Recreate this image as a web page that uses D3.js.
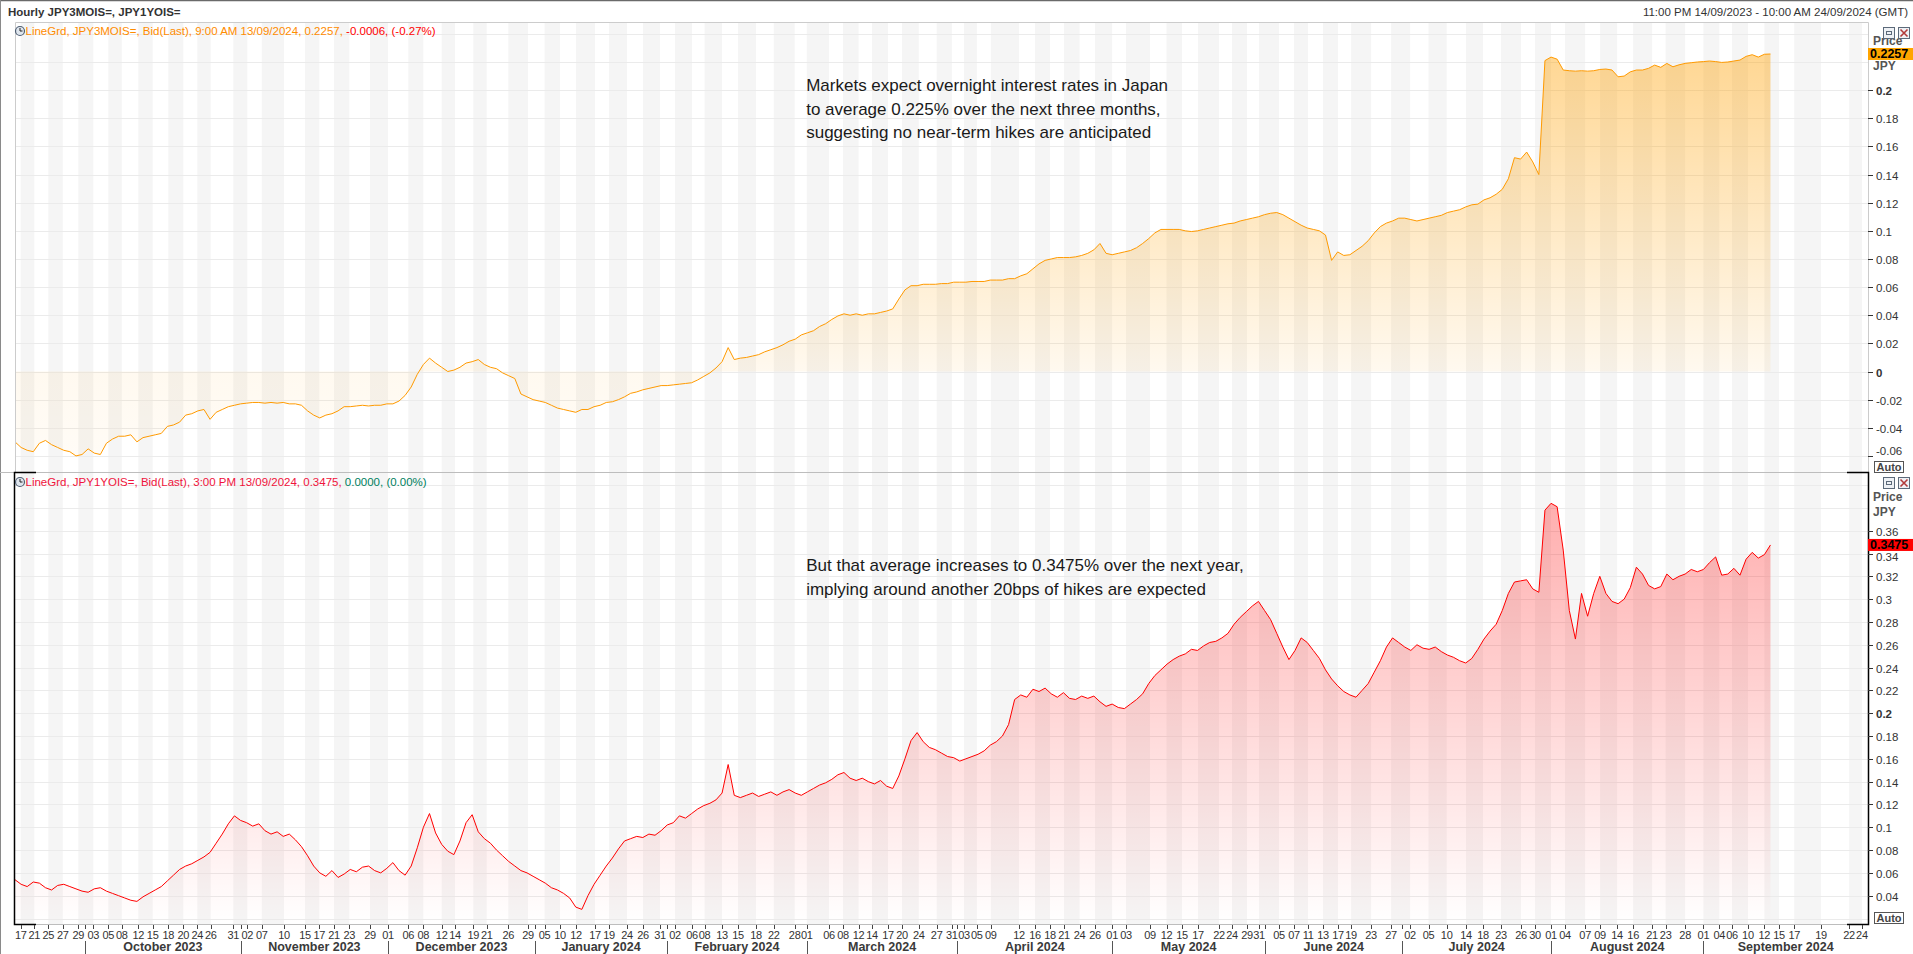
<!DOCTYPE html>
<html><head><meta charset="utf-8">
<script src="https://cdn.jsdelivr.net/npm/d3@7"></script>
<style>html,body{margin:0;padding:0;background:#fff;overflow:hidden}</style>
</head><body>
<script>
// ---------- DATA ----------
// JPY 3M OIS (%), one sample per trading-time slot
const jpy3m = [
-0.050,-0.054,-0.056,-0.057,-0.051,-0.049,-0.052,-0.054,-0.056,-0.057,
-0.060,-0.059,-0.055,-0.058,-0.059,-0.051,-0.048,-0.046,-0.046,-0.045,
-0.050,-0.047,-0.046,-0.045,-0.044,-0.039,-0.038,-0.036,-0.031,-0.030,
-0.028,-0.027,-0.034,-0.029,-0.027,-0.025,-0.024,-0.023,-0.0225,-0.022,
-0.022,-0.0225,-0.022,-0.0225,-0.022,-0.023,-0.023,-0.024,-0.028,-0.031,
-0.033,-0.031,-0.030,-0.028,-0.025,-0.025,-0.0245,-0.024,-0.0245,-0.024,
-0.024,-0.023,-0.023,-0.021,-0.017,-0.011,-0.002,0.005,0.0095,0.006,
0.003,0.000,0.001,0.003,0.006,0.007,0.0085,0.005,0.003,0.002,
-0.001,-0.003,-0.005,-0.016,-0.018,-0.020,-0.021,-0.022,-0.024,-0.026,
-0.027,-0.028,-0.029,-0.027,-0.027,-0.025,-0.024,-0.022,-0.0215,-0.020,
-0.018,-0.0155,-0.0145,-0.013,-0.012,-0.011,-0.010,-0.010,-0.0095,-0.009,
-0.0085,-0.008,-0.006,-0.0035,-0.001,0.0025,0.007,0.017,0.0085,0.0095,
0.010,0.011,0.012,0.014,0.0155,0.017,0.019,0.0215,0.023,0.026,
0.0275,0.029,0.032,0.034,0.037,0.0395,0.041,0.040,0.041,0.040,
0.041,0.041,0.042,0.043,0.0445,0.0515,0.058,0.061,0.061,0.062,
0.062,0.062,0.0625,0.0625,0.0635,0.0635,0.0635,0.064,0.064,0.064,
0.065,0.065,0.065,0.066,0.066,0.068,0.0695,0.073,0.0765,0.079,
0.080,0.081,0.081,0.081,0.0815,0.0825,0.084,0.0865,0.091,0.084,
0.083,0.084,0.085,0.086,0.088,0.091,0.0945,0.0985,0.101,0.101,
0.101,0.101,0.100,0.0995,0.100,0.101,0.102,0.103,0.104,0.105,
0.1055,0.107,0.108,0.109,0.110,0.1115,0.1125,0.113,0.1115,0.109,
0.1065,0.104,0.102,0.101,0.100,0.097,0.079,0.085,0.0825,0.083,
0.086,0.089,0.093,0.0985,0.103,0.1055,0.107,0.109,0.109,0.108,
0.107,0.108,0.109,0.110,0.111,0.113,0.114,0.115,0.117,0.1185,
0.119,0.122,0.1235,0.126,0.1295,0.137,0.152,0.151,0.156,0.149,
0.140,0.221,0.2235,0.222,0.2143,0.2138,0.2135,0.2138,0.2135,0.2138,
0.2147,0.2150,0.2143,0.2095,0.2100,0.2130,0.2143,0.2143,0.2155,0.2178,
0.2162,0.2190,0.2166,0.2180,0.2190,0.2195,0.2200,0.2203,0.2207,0.2203,
0.2197,0.2200,0.2207,0.2214,0.2240,0.2252,0.2235,0.2255,0.2257
];
// JPY 1Y OIS (%)
const jpy1y = [
0.054,0.050,0.048,0.052,0.051,0.047,0.045,0.049,0.050,0.048,
0.046,0.044,0.043,0.046,0.047,0.044,0.042,0.040,0.038,0.036,
0.035,0.039,0.042,0.045,0.048,0.053,0.058,0.063,0.066,0.068,
0.071,0.074,0.078,0.086,0.094,0.103,0.110,0.106,0.104,0.101,
0.103,0.097,0.094,0.096,0.092,0.094,0.089,0.083,0.075,0.066,
0.060,0.057,0.062,0.056,0.059,0.063,0.061,0.065,0.066,0.062,
0.060,0.064,0.069,0.062,0.058,0.066,0.082,0.100,0.112,0.095,
0.085,0.079,0.076,0.088,0.104,0.111,0.096,0.090,0.086,0.080,
0.075,0.070,0.066,0.062,0.060,0.057,0.054,0.051,0.047,0.045,
0.042,0.038,0.030,0.028,0.040,0.050,0.058,0.066,0.073,0.081,
0.088,0.090,0.092,0.091,0.094,0.093,0.097,0.102,0.104,0.110,
0.108,0.112,0.116,0.119,0.121,0.124,0.130,0.155,0.128,0.126,
0.128,0.130,0.127,0.129,0.131,0.128,0.131,0.133,0.130,0.128,
0.131,0.134,0.137,0.139,0.142,0.146,0.148,0.143,0.141,0.143,
0.140,0.138,0.141,0.136,0.134,0.145,0.160,0.176,0.183,0.175,
0.170,0.168,0.165,0.162,0.161,0.158,0.160,0.162,0.164,0.167,
0.172,0.175,0.180,0.190,0.212,0.216,0.214,0.221,0.219,0.222,
0.217,0.214,0.218,0.213,0.212,0.215,0.213,0.215,0.210,0.206,
0.208,0.205,0.204,0.208,0.212,0.217,0.226,0.233,0.238,0.243,
0.247,0.250,0.252,0.256,0.255,0.259,0.262,0.263,0.266,0.270,
0.278,0.284,0.289,0.294,0.298,0.290,0.282,0.270,0.258,0.247,
0.255,0.266,0.262,0.255,0.248,0.238,0.230,0.224,0.219,0.216,
0.214,0.220,0.226,0.236,0.246,0.258,0.266,0.262,0.258,0.255,
0.260,0.257,0.256,0.258,0.254,0.251,0.249,0.246,0.244,0.248,
0.256,0.265,0.272,0.278,0.290,0.305,0.315,0.316,0.317,0.309,
0.306,0.378,0.384,0.381,0.343,0.290,0.265,0.305,0.285,0.305,
0.320,0.305,0.298,0.296,0.300,0.310,0.328,0.322,0.312,0.309,
0.311,0.322,0.317,0.320,0.322,0.326,0.324,0.326,0.332,0.337,
0.321,0.322,0.327,0.321,0.335,0.341,0.336,0.339,0.3475
];
// X axis: day labels and the trading-time slot where each day starts
const tickLabels = ["17","21","25","27","29",
"03","05","08","12","15","18","20","24","26","31",
"02","07","10","15","17","21","23","29",
"01","06","08","12","14","19","21","26","29",
"05","10","12","17","19","24","26","31",
"02","06","08","13","15","18","22","28",
"01","06","08","12","14","17","20","24","27","31",
"03","05","09","12","16","18","21","24","26",
"01","03","09","12","15","17","22","24","29","31",
"05","07","11","13","17","19","23","27",
"02","05","10","14","18","23","26","30",
"01","04","07","09","14","16","21","23","28",
"01","04","06","10","12","15","17","19","22","24"];
const tickBars = [0.94,3.17,5.46,7.83,10.39,
12.85,15.31,17.51,20.23,22.59,25.15,27.61,29.91,32.11,35.82,
38.11,40.48,44.13,47.58,49.93,52.34,54.85,58.24,
61.2,64.53,66.99,70.0,72.19,75.19,77.39,80.94,84.17,
86.89,89.42,92.04,95.16,97.46,100.41,103.04,105.82,
108.29,111.08,113.13,116.0,118.62,121.57,124.48,127.91,
129.9,133.55,135.85,138.39,140.61,143.23,145.53,148.27,151.21,153.7,
155.7,157.8,160.1,164.72,167.35,169.81,172.11,174.65,177.19,
180.0,182.28,186.22,188.92,191.47,194.09,197.54,199.67,202.13,204.1,
207.38,209.84,212.14,214.6,217.06,219.2,222.48,225.76,
228.88,231.9,234.88,238.06,240.85,243.8,247.08,249.38,
252.0,254.3,257.6,260.05,262.84,265.47,268.58,270.8,274.0,
277.0,279.6,281.7,284.3,287.0,289.4,291.9,296.3,300.9,303.0];
const monthNames = ["October 2023","November 2023","December 2023","January 2024","February 2024","March 2024","April 2024","May 2024","June 2024","July 2024","August 2024","September 2024"];
const monthBars = [11.48,37.03,61.2,85.3,107.0,129.9,154.6,180.0,205.1,227.6,252.0,277.0];
const barEnd = 304;
const topTicks = [-0.06,-0.04,-0.02,0,0.02,0.04,0.06,0.08,0.1,0.12,0.14,0.16,0.18,0.2];
const botTicks = [0.04,0.06,0.08,0.1,0.12,0.14,0.16,0.18,0.2,0.22,0.24,0.26,0.28,0.3,0.32,0.34,0.36];
const topNotes = ["Markets expect overnight interest rates in Japan","to average 0.225% over the next three months,","suggesting no near-term hikes are anticipated"];
const botNotes = ["But that average increases to 0.3475% over the next year,","implying around another 20bps of hikes are expected"];

// ---------- LAYOUT ----------
const W=1913,H=954;
const L=15,R=1868,T0=22,SEP=472,B1=924;
const UI="'Liberation Sans', Arial, sans-serif";
const svg=d3.select('body').append('svg').attr('width',W).attr('height',H).style('display','block').style('font-family',UI);
const x=d3.scaleLinear().domain([0,barEnd]).range([L,R]);
const yT=d3.scaleLinear().domain([-0.07143,0.24844]).range([SEP,T0]);
const yB=d3.scaleLinear().domain([0.01518,0.41146]).range([B1,SEP]);

svg.append('rect').attr('width',W).attr('height',H).attr('fill','#fff');
const defs=svg.append('defs');
const gO=defs.append('linearGradient').attr('id','gO').attr('gradientUnits','userSpaceOnUse').attr('x1',0).attr('x2',0).attr('y1',T0).attr('y2',SEP);
gO.append('stop').attr('offset',0).attr('stop-color','#FFA000').attr('stop-opacity',0.46);
gO.append('stop').attr('offset',0.78).attr('stop-color','#FFA000').attr('stop-opacity',0.06);
gO.append('stop').attr('offset',1).attr('stop-color','#FFA000').attr('stop-opacity',0.03);
const gR=defs.append('linearGradient').attr('id','gR').attr('gradientUnits','userSpaceOnUse').attr('x1',0).attr('x2',0).attr('y1',SEP).attr('y2',B1);
gR.append('stop').attr('offset',0).attr('stop-color','#FF0000').attr('stop-opacity',0.34);
gR.append('stop').attr('offset',1).attr('stop-color','#FF0000').attr('stop-opacity',0.0);
defs.append('clipPath').attr('id','cT').append('rect').attr('x',L).attr('y',T0).attr('width',R-L).attr('height',SEP-T0);
defs.append('clipPath').attr('id','cB').append('rect').attr('x',L).attr('y',SEP).attr('width',R-L).attr('height',B1-SEP);

// stripes between alternate day labels
const stripes=svg.append('g');
for(let k=0;k<tickBars.length-1;k+=2){
  stripes.append('rect').attr('x',x(tickBars[k])).attr('y',T0).attr('width',x(tickBars[k+1])-x(tickBars[k])).attr('height',B1-T0).attr('fill','#F5F5F5');
}
// gridlines
const grid=svg.append('g').attr('stroke','#EBEBEB').attr('stroke-width',1);
d3.range(-4,13).map(k=>k*0.02).filter(v=>yT(v)>T0&&yT(v)<SEP).forEach(v=>{
  grid.append('line').attr('x1',L).attr('x2',R).attr('y1',Math.round(yT(v))+0.5).attr('y2',Math.round(yT(v))+0.5);
});
d3.range(1,21).map(k=>k*0.02).filter(v=>yB(v)>SEP&&yB(v)<B1).forEach(v=>{
  grid.append('line').attr('x1',L).attr('x2',R).attr('y1',Math.round(yB(v))+0.5).attr('y2',Math.round(yB(v))+0.5);
});

// areas & lines
const gTop=svg.append('g').attr('clip-path','url(#cT)');
gTop.append('path').datum(jpy3m).attr('fill','url(#gO)')
  .attr('d',d3.area().x((d,i)=>x(i)).y0(yT(0)).y1(d=>yT(d)));
gTop.append('path').datum(jpy3m).attr('fill','none').attr('stroke','#FF9A00').attr('stroke-width',1)
  .attr('d',d3.line().x((d,i)=>x(i)).y(d=>yT(d)));
const gBot=svg.append('g').attr('clip-path','url(#cB)');
gBot.append('path').datum(jpy1y).attr('fill','url(#gR)')
  .attr('d',d3.area().x((d,i)=>x(i)).y0(B1).y1(d=>yB(d)));
gBot.append('path').datum(jpy1y).attr('fill','none').attr('stroke','#FF0000').attr('stroke-width',1)
  .attr('d',d3.line().x((d,i)=>x(i)).y(d=>yB(d)));

// frames
svg.append('line').attr('x1',0).attr('x2',W).attr('y1',0.5).attr('y2',0.5).attr('stroke','#6a6a6a').attr('stroke-width',1.5);
svg.append('line').attr('x1',0.5).attr('x2',0.5).attr('y1',0).attr('y2',H).attr('stroke','#8a8a8a');
svg.append('path').attr('d',`M${L+0.5},${SEP}V${T0+0.5}H${R+0.5}V${SEP}`).attr('fill','none').attr('stroke','#CCCCCC');
svg.append('line').attr('x1',0).attr('x2',R).attr('y1',SEP+0.5).attr('y2',SEP+0.5).attr('stroke','#BDBDBD');
svg.append('line').attr('x1',L).attr('x2',R).attr('y1',B1+0.5).attr('y2',B1+0.5).attr('stroke','#BDBDBD');
const blk=svg.append('g').attr('stroke','#000').attr('stroke-width',1.5).attr('fill','none');
blk.append('path').attr('d',`M${L+21},${SEP+0.5}H${L-0.5}V${B1+0.5}H${L+21}`);
blk.append('path').attr('d',`M${R-21},${SEP+0.5}H${R+0.5}V${B1+0.5}H${R-21}`);

// x axis ticks & labels
const xa=svg.append('g').attr('fill','#333').attr('font-size',11);
tickBars.forEach((b,i)=>{
  xa.append('line').attr('x1',Math.round(x(b))+0.5).attr('x2',Math.round(x(b))+0.5).attr('y1',B1+1).attr('y2',B1+5).attr('stroke','#444');
  xa.append('text').attr('x',x(b)).attr('y',B1+11).attr('dy','0.35em').attr('text-anchor','middle').attr('letter-spacing',-0.3).text(tickLabels[i]);
});
monthBars.forEach((b,i)=>{
  xa.append('line').attr('x1',Math.round(x(b))+0.5).attr('x2',Math.round(x(b))+0.5).attr('y1',B1+1).attr('y2',B1+5).attr('stroke','#444');
  xa.append('line').attr('x1',Math.round(x(b))+0.5).attr('x2',Math.round(x(b))+0.5).attr('y1',B1+17).attr('y2',H).attr('stroke','#555');
  const nxt=i<monthBars.length-1?monthBars[i+1]:barEnd;
  xa.append('text').attr('x',x((b+nxt)/2)).attr('y',B1+23).attr('dy','0.35em').attr('text-anchor','middle')
    .attr('font-weight','bold').attr('font-size',12.5).attr('fill','#3a3a3a').text(monthNames[i]);
});

// y axes
function fmt(v){return String(+v.toFixed(2));}
function isBold(v){return Math.abs(v*5-Math.round(v*5))<1e-9;}
const lastT=yT(jpy3m[jpy3m.length-1]), lastB=yB(jpy1y[jpy1y.length-1]);
function avoid(yy,tagY){ // keep a tick label clear of the last-value tag
  if(Math.abs(yy-tagY)<12) return yy>tagY? tagY+12 : tagY-12;
  return yy;
}
const ya=svg.append('g').attr('fill','#333').attr('font-size',11.5);
topTicks.forEach(v=>{
  const yy=Math.round(yT(v))+0.5;
  ya.append('line').attr('x1',R).attr('x2',R+5).attr('y1',yy).attr('y2',yy).attr('stroke','#333');
  ya.append('text').attr('x',R+8).attr('y',avoid(Math.min(yy,451),lastT)).attr('dy','0.35em').attr('font-weight',isBold(v)?'bold':'normal').text(fmt(v));
});
botTicks.forEach(v=>{
  const yy=Math.round(yB(v))+0.5;
  ya.append('line').attr('x1',R).attr('x2',R+5).attr('y1',yy).attr('y2',yy).attr('stroke','#333');
  ya.append('text').attr('x',R+8).attr('y',avoid(yy,lastB)).attr('dy','0.35em').attr('font-weight',isBold(v)?'bold':'normal').text(fmt(v));
});
// Price / JPY captions
[[T0+19,T0+44],[SEP+25,SEP+40]].forEach(p=>{
  ya.append('text').attr('x',R+5).attr('y',p[0]).attr('dy','0.35em').attr('font-weight','bold').attr('fill','#555').attr('font-size',12).text('Price');
  ya.append('text').attr('x',R+5).attr('y',p[1]).attr('dy','0.35em').attr('font-weight','bold').attr('fill','#555').attr('font-size',12).text('JPY');
});
// last value tags
function tag(yy,col,txt){
  svg.append('rect').attr('x',R).attr('y',yy-6).attr('width',W-R).attr('height',12).attr('fill',col);
  svg.append('text').attr('x',R+2).attr('y',yy).attr('dy','0.36em').attr('font-weight','bold').attr('font-size',12.5).attr('fill','#000').text(txt);
}
tag(lastT,'#FFA500',jpy3m[jpy3m.length-1].toFixed(4));
tag(lastB,'#FF0000',jpy1y[jpy1y.length-1].toFixed(4));
// Auto boxes
[SEP-11,B1-12].forEach(yy=>{
  svg.append('rect').attr('x',R+6.5).attr('y',yy+0.5).attr('width',29).attr('height',11).attr('fill','#fff').attr('stroke','#555');
  svg.append('text').attr('x',R+21).attr('y',yy+6).attr('dy','0.36em').attr('text-anchor','middle').attr('font-weight','bold').attr('font-size',11).attr('fill','#444').text('Auto');
});
// window icons
[T0+5,SEP+5].forEach(yy=>{
  const g=svg.append('g');
  g.append('rect').attr('x',1883.5).attr('y',yy+0.5).attr('width',11).attr('height',11).attr('fill','#eef1f5').attr('stroke','#5c6a7a');
  g.append('rect').attr('x',1886.5).attr('y',yy+4.5).attr('width',5).attr('height',3).attr('fill','none').attr('stroke','#5c6a7a');
  g.append('rect').attr('x',1898.5).attr('y',yy+0.5).attr('width',11).attr('height',11).attr('fill','#eef1f5').attr('stroke','#5c6a7a');
  g.append('path').attr('d',`M1900.5,${yy+2.5}L1907.5,${yy+9.5}M1907.5,${yy+2.5}L1900.5,${yy+9.5}`).attr('stroke','#b23a3a').attr('stroke-width',1.6);
});

// header
svg.append('text').attr('x',8).attr('y',12).attr('dy','0.35em').attr('font-weight','bold').attr('font-size',11.5).attr('fill','#333').text('Hourly JPY3MOIS=, JPY1YOIS=');
svg.append('text').attr('x',1908).attr('y',12).attr('dy','0.35em').attr('text-anchor','end').attr('font-size',11.5).attr('fill','#333').text('11:00 PM 14/09/2023 - 10:00 AM 24/09/2024 (GMT)');

// info lines with clock icons
function clock(cx,cy){
  svg.append('circle').attr('cx',cx).attr('cy',cy).attr('r',4.5).attr('fill','#dfe6ee').attr('stroke','#4f5f73').attr('stroke-width',1.2);
  svg.append('path').attr('d',`M${cx},${cy-3}V${cy}H${cx+2.5}`).attr('stroke','#222').attr('fill','none');
}
clock(20,31);
const t1=svg.append('text').attr('x',25.5).attr('y',31).attr('dy','0.35em').attr('font-size',11.5);
t1.append('tspan').attr('fill','#FF8C00').text('LineGrd, JPY3MOIS=, Bid(Last), 9:00 AM 13/09/2024, 0.2257, ');
t1.append('tspan').attr('fill','#FF0000').text('-0.0006, (-0.27%)');
clock(20,482);
const t2=svg.append('text').attr('x',25.5).attr('y',482).attr('dy','0.35em').attr('font-size',11.5);
t2.append('tspan').attr('fill','#F0143C').text('LineGrd, JPY1YOIS=, Bid(Last), 3:00 PM 13/09/2024, 0.3475, ');
t2.append('tspan').attr('fill','#008060').text('0.0000, (0.00%)');

// annotations
const AF="'Liberation Sans', Arial, Helvetica, sans-serif";
topNotes.forEach((s,i)=>{
  svg.append('text').attr('x',x(129.8)).attr('y',yT(0.2034)+i*23.2).attr('dy','0.35em').attr('font-family',AF).attr('font-size',17).attr('fill','#1a1a1a').text(s);
});
botNotes.forEach((s,i)=>{
  svg.append('text').attr('x',x(129.8)).attr('y',yB(0.3299)+i*23.6).attr('dy','0.35em').attr('font-family',AF).attr('font-size',17).attr('fill','#1a1a1a').text(s);
});
</script>
</body></html>
